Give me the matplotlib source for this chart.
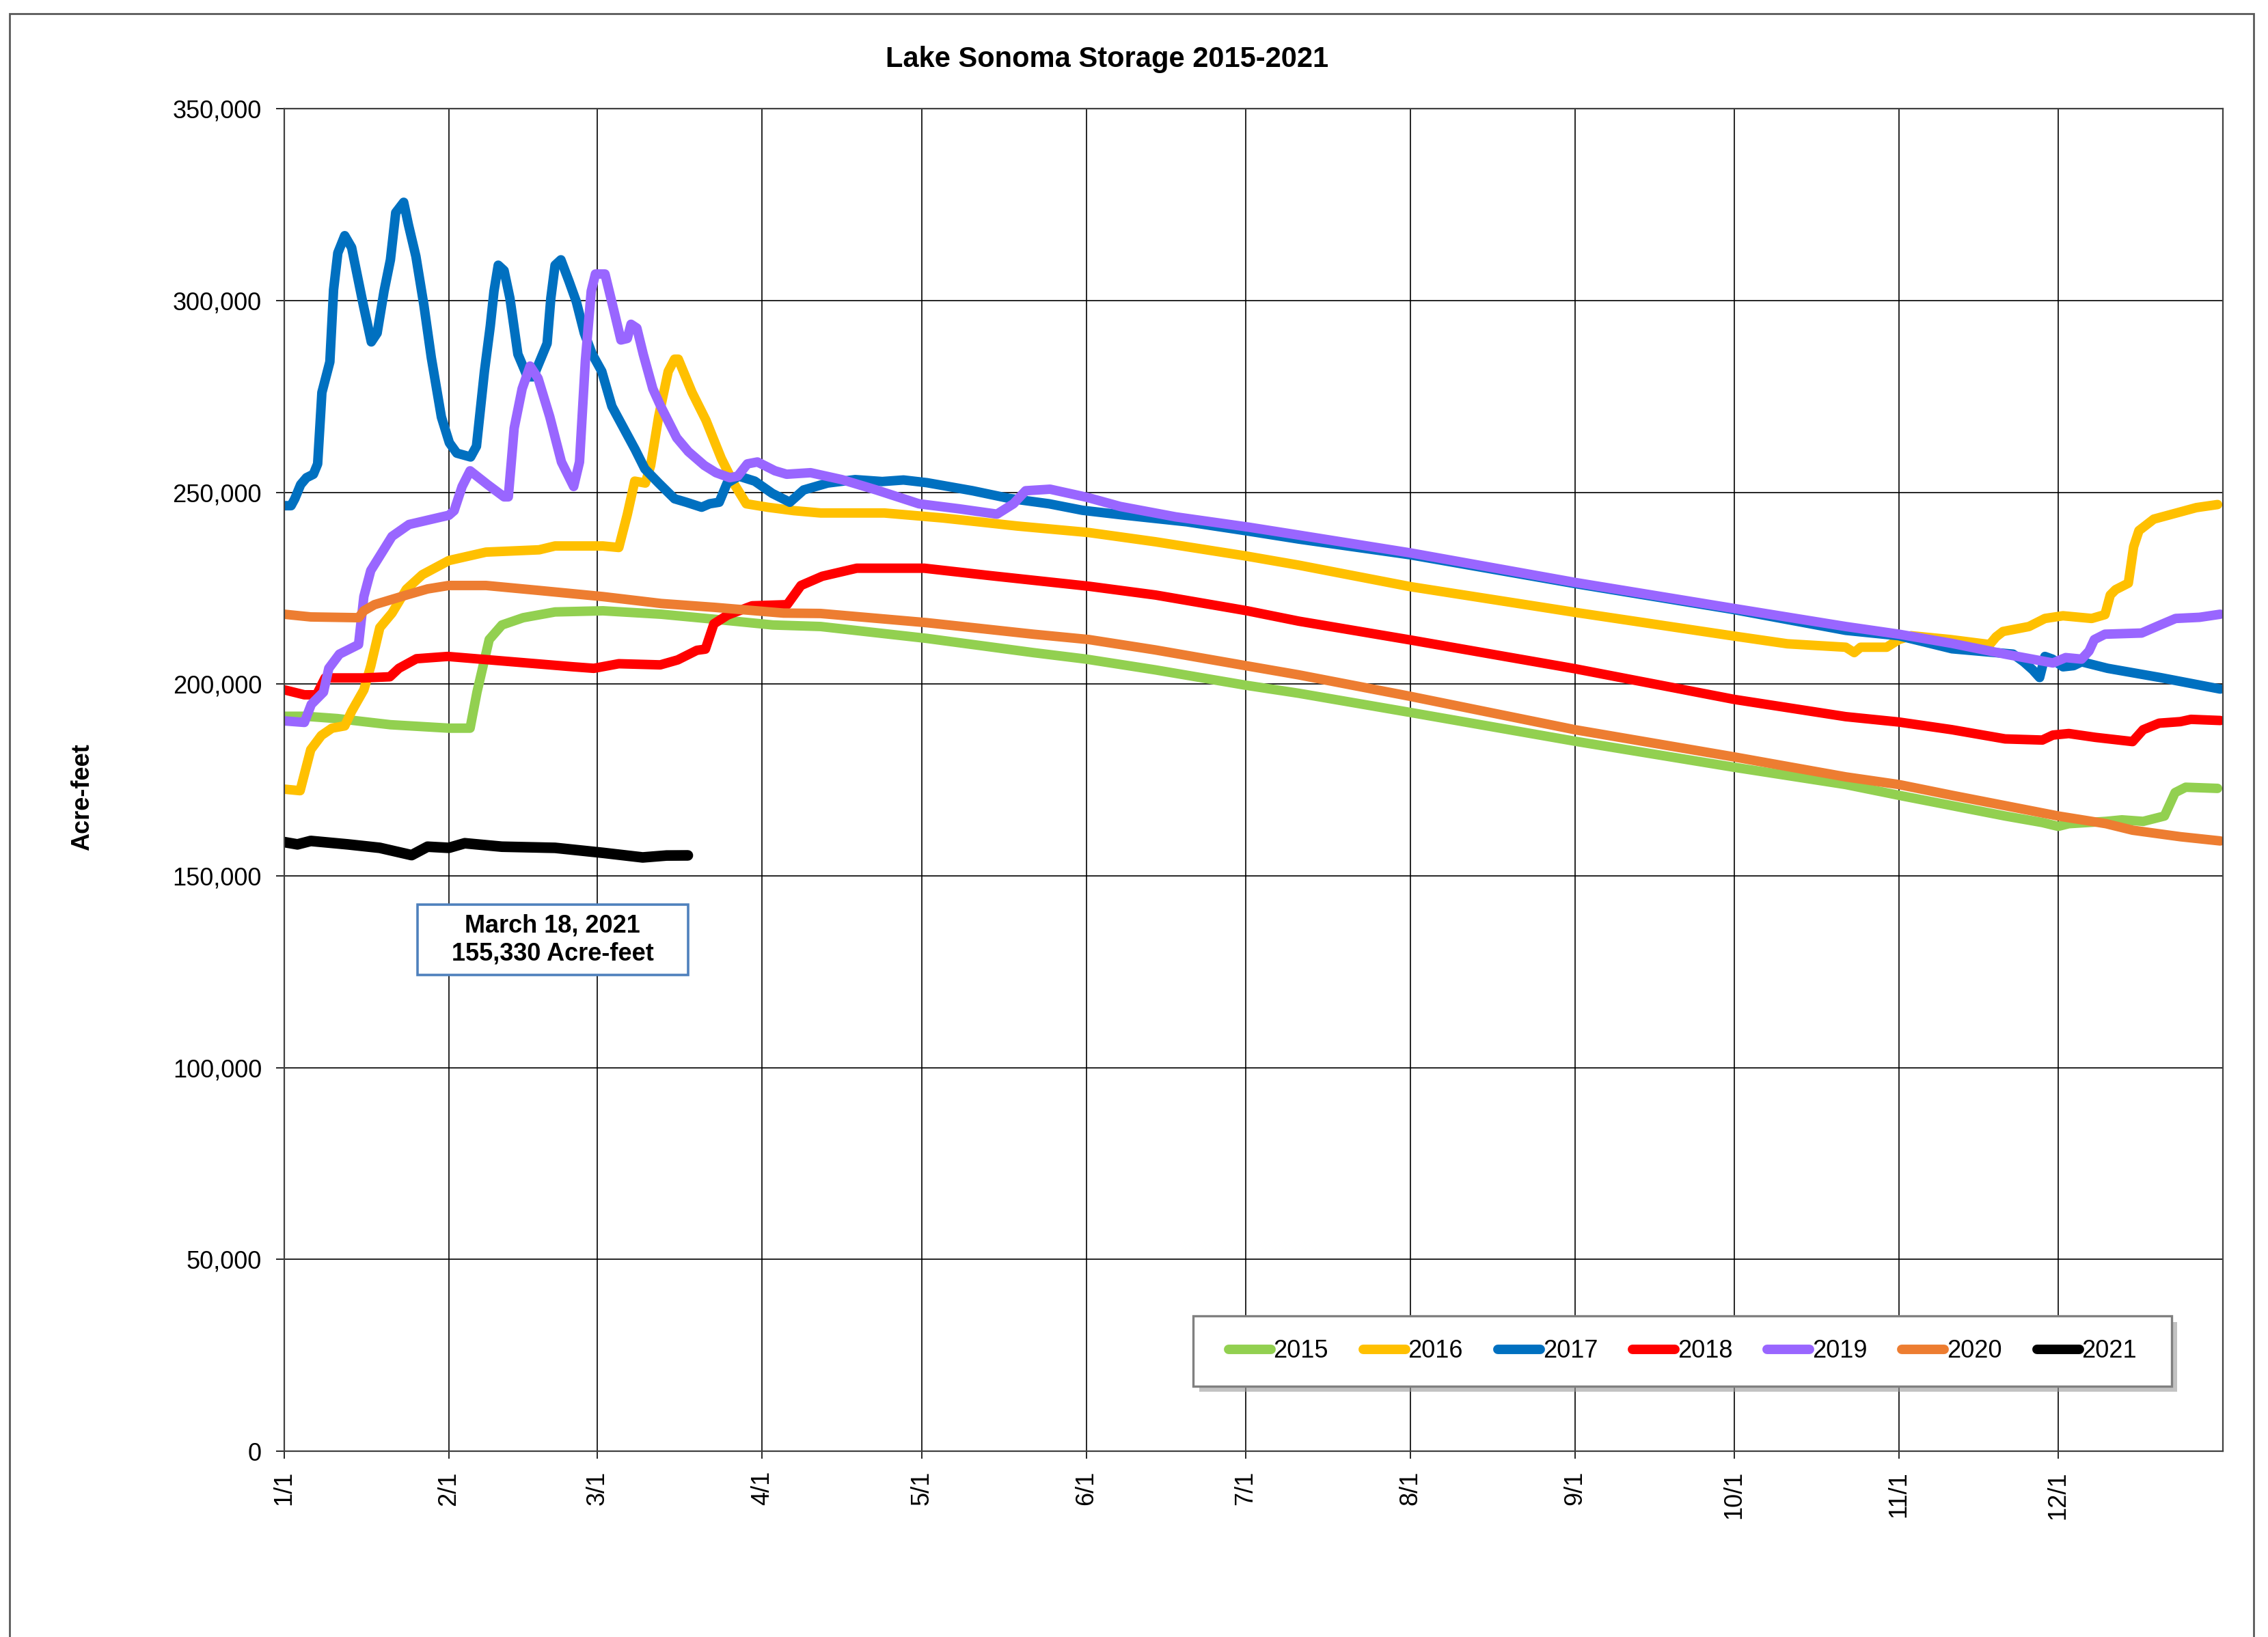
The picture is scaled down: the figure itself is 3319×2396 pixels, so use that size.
import matplotlib
matplotlib.use("Agg")
import matplotlib.pyplot as plt
import matplotlib.transforms as mtransforms
from matplotlib.patches import Rectangle
from matplotlib.ticker import FuncFormatter

plt.rcParams['font.family'] = ['Liberation Sans', 'DejaVu Sans']

# ------------------------------------------------------------------
# Data (day of year, storage in acre-feet)
# ------------------------------------------------------------------
days_2015 = [0, 4, 10, 20, 31, 35, 36.3, 38.6, 41, 45, 51, 60, 71, 81, 92, 101, 121, 141, 151, 164,
             181, 191, 212, 243, 273, 294, 304, 314, 324, 331, 334, 336, 343, 346, 350, 354, 356, 358, 364]
vals_2015 = [191600, 191600, 191000, 189400, 188500, 188500, 197900, 211600, 215400, 217300, 218800,
             219100, 218200, 216900, 215400, 215000, 211900, 208200, 206500, 203700, 199700, 197600,
             192600, 185100, 178300, 173800, 171000, 168300, 165600, 163900, 162900, 163600, 164200,
             164600, 164200, 165600, 171700, 173100, 172800]

days_2016 = [0, 3, 5, 7, 9, 11.4, 12.7, 15, 16.3, 18, 20.3, 23, 26, 31, 38, 48, 51, 60, 63, 64.6, 66,
             68, 69, 70.5, 72.3, 73.5, 74.2, 76.8, 79.4, 82.3, 84.6, 87, 91, 96, 101, 113, 124, 138,
             151.5, 164, 181, 191, 212, 243, 273, 283, 294, 295.6, 296.8, 301.7, 304, 306.3, 313.7,
             321.1, 322.3, 323.6, 328.5, 331.5, 334.9, 340.3, 342.8, 343.8, 344.8, 347.2, 348.2,
             349.2, 352, 356, 360, 364]
vals_2016 = [172600, 172200, 182900, 186600, 188500, 189100, 192900, 198500, 204700, 214700, 218500,
             224700, 228500, 232200, 234400, 235000, 236000, 236000, 235600, 244200, 252900, 252400,
             257000, 269700, 281500, 284700, 284700, 276000, 268800, 258800, 252400, 247000, 246100,
             245200, 244600, 244600, 243300, 241200, 239500, 237100, 233400, 231000, 225400, 218700,
             212500, 210500, 209600, 208200, 209600, 209600, 211600, 212600, 211600, 210300, 212300,
             213700, 215000, 217100, 217800, 217100, 218100, 223200, 224600, 226300, 235800, 240000,
             243000, 244500, 246000, 246800]

days_2017 = [0, 1.3, 2, 3.1, 4.2, 5.5, 6.3, 7.1, 8.6, 9.3, 10.1, 11.4, 12.7, 14.9, 16.4, 17.5, 18.8,
             20, 21, 22.5, 23.4, 24.8, 26.3, 27.7, 29.6, 31.1, 32.5, 35.1, 36.2, 37.7, 38.8, 39.5, 40.3,
             41.4, 42.5, 44, 45.8, 46.9, 48.4, 49.5, 50.2, 51, 52.1, 53.6, 55, 56.5, 58, 59.8, 61.7,
             63.1, 66.1, 67.9, 70.5, 73.5, 75.7, 78.6, 80.1, 81.9, 83.4, 85.6, 88.6, 91.9, 95.2, 97.8,
             102.3, 107.5, 112.6, 116.6, 121, 129.6, 136.5, 144, 150.3, 158.4, 169.9, 181.4, 191, 212,
             243, 273, 294, 304, 314, 325.5, 327.5, 329.2, 330.5, 331.5, 332.9, 334.9, 336.9, 338.4,
             343.3, 353.2, 364.5]
vals_2017 = [246500, 246500, 248300, 252000, 253800, 254700, 257400, 276000, 284000, 302800, 312400,
             316900, 313800, 298800, 289200, 291500, 302400, 310600, 322900, 325600, 319700, 311500,
             298800, 285100, 269600, 262900, 260200, 259200, 262000, 281500, 293300, 302400, 309200,
             307800, 300600, 286000, 280100, 280100, 285100, 288800, 300600, 309200, 310600, 305100,
             299700, 291500, 286000, 281500, 272400, 268800, 261100, 256100, 252400, 248300, 247400,
             246100, 247000, 247400, 252400, 254200, 252900, 249700, 247400, 250600, 252400, 253300,
             252800, 253200, 252500, 250400, 248400, 247000, 245300, 244000, 242300, 239900, 237800,
             233700, 226200, 219400, 214000, 212600, 209200, 207800, 205800, 203700, 201700, 207200,
             206500, 204500, 204800, 205800, 204100, 201700, 198700]

days_2018 = [0, 3.8, 6.1, 7.7, 15, 19.9, 21.6, 24.9, 30.8, 41.3, 54.4, 58.3, 63, 70.8, 74.1, 77.7,
             79.3, 80.9, 83.5, 88.1, 94.7, 97.3, 101.3, 107.8, 115.7, 120.5, 132.7, 151.5, 164.1, 181.3,
             191, 212, 243, 273, 294, 304, 314, 324, 331, 333, 336, 341, 348, 350, 353, 357, 359, 364.5]
vals_2018 = [198500, 197200, 197200, 201600, 201600, 201900, 204100, 206600, 207200, 206000, 204500,
             204100, 205300, 205000, 206300, 208800, 209100, 215700, 218000, 220400, 220700, 225700,
             228100, 230200, 230200, 230200, 228300, 225500, 223200, 219100, 216400, 211500, 204000,
             196000, 191500, 190100, 188100, 185700, 185400, 186700, 187100, 186100, 185000, 188100,
             189800, 190200, 190800, 190500]

days_2019 = [0, 3.8, 5.1, 7.4, 8.4, 10.4, 14, 15, 16.3, 20.3, 23.5, 29.4, 31, 32, 33.5, 35, 38.3,
             41.4, 42.2, 43.3, 44.8, 46.3, 47.8, 50, 52.2, 54.5, 55.6, 56.7, 57.8, 58.6, 60.4, 62.3,
             63.4, 64.6, 65.3, 66.4, 67.6, 69.4, 70.9, 73.9, 76.1, 79.1, 81.3, 83.9, 85.4, 87.2, 89.1,
             92.4, 94.6, 99.1, 105, 111.5, 119.5, 127, 134.2, 137.3, 139.6, 144.2, 151.1, 157.4, 167.8,
             181.6, 191.2, 212, 243, 273, 294, 304, 314, 324, 333, 335.4, 338.4, 339.8, 340.8, 342.8,
             349.7, 353.2, 356.1, 360.6, 364.5]
vals_2019 = [190400, 190000, 194700, 197900, 204100, 207800, 210300, 222800, 229600, 238500, 241600,
             243500, 244000, 245200, 251500, 255600, 252000, 248800, 248800, 266700, 277000, 282900,
             279700, 269700, 257900, 251500, 257900, 284200, 302400, 306900, 306900, 296100, 289700,
             290100, 293800, 292800, 286000, 277000, 272400, 264200, 260600, 257000, 255100, 253800,
             254200, 257400, 257900, 255600, 254700, 255100, 253300, 250600, 247000, 245700, 244300,
             247000, 250400, 250800, 248700, 246300, 243600, 240900, 238800, 234200, 226500, 219700,
             215000, 213000, 210600, 207800, 205500, 206900, 206500, 208600, 211600, 213000, 213300,
             215400, 217100, 217400, 218200]

days_2020 = [0, 5, 14, 15, 17, 23, 27, 31, 38, 48, 60, 71, 81, 94, 101, 121, 141, 151.5, 164, 181,
             191, 212, 243, 273, 294, 304, 314, 324, 334, 343, 348, 357, 364.5]
vals_2020 = [218200, 217500, 217300, 219100, 220700, 223200, 224800, 225700, 225700, 224400, 222800,
             221000, 220000, 218500, 218400, 216000, 213000, 211600, 208900, 204800, 202400, 196800,
             188100, 181000, 175800, 173800, 171000, 168300, 165600, 163600, 161900, 160200, 159100]

days_2021 = [0, 2.5, 5, 12, 18, 24, 27, 31, 34, 41, 51, 60, 67.5, 72, 76]
vals_2021 = [158800, 158200, 159100, 158200, 157300, 155400, 157600, 157300, 158500, 157600, 157300,
             156000, 154800, 155300, 155330]

years = ['2015', '2016', '2017', '2018', '2019', '2020', '2021']
colors = ['#92D050', '#FFC000', '#0070C0', '#FF0000', '#9966FF', '#ED7D31', '#000000']
widths = [5.0, 5.0, 5.0, 5.0, 5.0, 5.0, 5.6]
series_days = [days_2015, days_2016, days_2017, days_2018, days_2019, days_2020, days_2021]
series_vals = [vals_2015, vals_2016, vals_2017, vals_2018, vals_2019, vals_2020, vals_2021]

month_starts = [0, 31, 59, 90, 120, 151, 181, 212, 243, 273, 304, 334]
month_labels = ['1/1', '2/1', '3/1', '4/1', '5/1', '6/1', '7/1', '8/1', '9/1', '10/1', '11/1', '12/1']
y_ticks = [0, 50000, 100000, 150000, 200000, 250000, 300000, 350000]

# ------------------------------------------------------------------
# Figure
# ------------------------------------------------------------------
fig = plt.figure(figsize=(16.595, 11.98), dpi=200)
ax = fig.add_axes([0.1253, 0.1135, 0.8548, 0.8201])

# outer chart frame
fig.patches.append(Rectangle((0.0042, -0.02), 0.9895, 1.0117, transform=fig.transFigure,
                             fill=False, edgecolor='#595959', linewidth=1.0))

for d, v, c, w, yr in zip(series_days, series_vals, colors, widths, years):
    ax.plot(d, v, color=c, linewidth=w, solid_capstyle='round', solid_joinstyle='round', label=yr)

ax.set_xlim(0, 365)
ax.set_ylim(0, 350000)
ax.set_xticks(month_starts)
ax.set_xticklabels(month_labels)
ax.set_yticks(y_ticks)
ax.yaxis.set_major_formatter(FuncFormatter(lambda v, p: f'{v:,.0f}'))

ax.set_axisbelow(True)
ax.grid(True, color='black', linewidth=0.6)
for s in ax.spines.values():
    s.set_color('#404040')
    s.set_linewidth(0.8)

ax.tick_params(axis='x', direction='out', length=4, width=0.6, pad=6.5, labelrotation=90, labelsize=13)
ax.tick_params(axis='y', direction='out', length=4.3, width=0.6, pad=7.5, labelsize=13)

fig.text(0.488, 0.9637, 'Lake Sonoma Storage 2015-2021', ha='center', va='center',
         fontsize=15, fontweight='bold')
fig.text(0.0364, 0.513, 'Acre-feet', rotation=90, ha='center', va='center',
         fontsize=13, fontweight='bold')

# annotation box
ax.add_patch(Rectangle((0.0687, 0.3547), 0.1396, 0.0524, transform=ax.transAxes,
                       facecolor='white', edgecolor='#4F81BD', linewidth=1.3, zorder=3))
ax.text(0.1385, 0.381, 'March 18, 2021\n155,330 Acre-feet', transform=ax.transAxes,
        ha='center', va='center', fontsize=13, fontweight='bold', linespacing=1.25, zorder=4)

# legend with shadowed frame
shadow_tr = mtransforms.offset_copy(ax.transAxes, fig=fig, x=3, y=-3, units='points')
ax.add_patch(Rectangle((0.469, 0.0483), 0.5046, 0.0524, transform=shadow_tr,
                       facecolor='#9a9a9a', edgecolor='none', alpha=0.6, zorder=3))
ax.add_patch(Rectangle((0.469, 0.0483), 0.5046, 0.0524, transform=ax.transAxes,
                       facecolor='white', edgecolor='#808080', linewidth=1.2, zorder=3.1))
leg = ax.legend(loc='center', bbox_to_anchor=(0.7213, 0.0745), ncol=7, frameon=False,
                fontsize=13, handlelength=1.72, handletextpad=0.1, columnspacing=1.41)
leg.set_zorder(5)
for h in leg.get_lines():
    h.set_linewidth(5.0)
    h.set_solid_capstyle('round')

fig.savefig('out.png', dpi=200)
